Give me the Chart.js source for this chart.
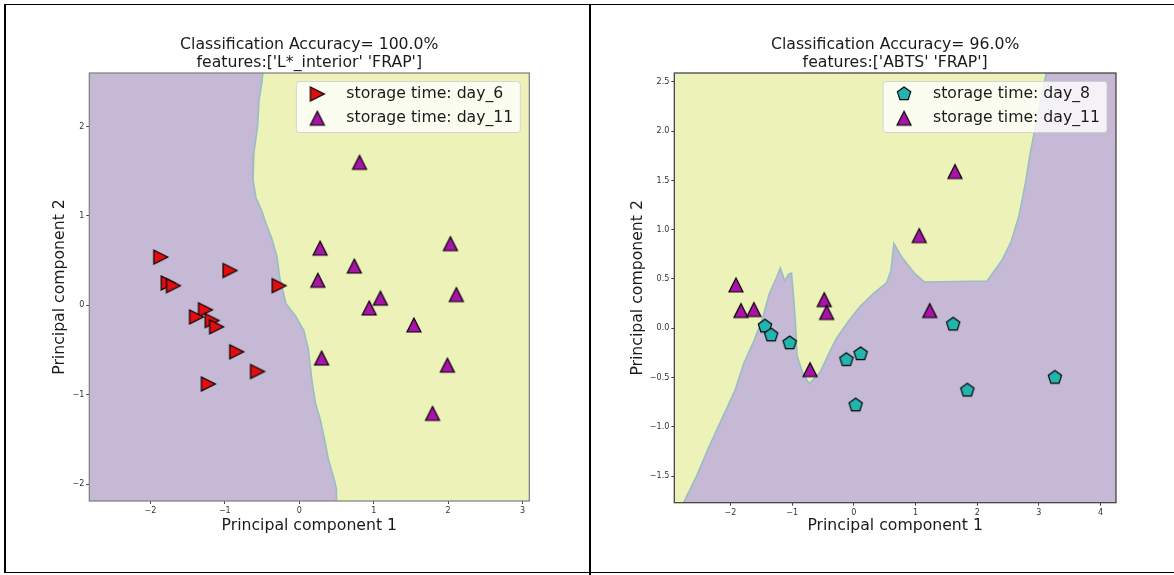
<!DOCTYPE html>
<html>
<head>
<meta charset="utf-8">
<script src="https://cdn.jsdelivr.net/npm/chart.js@4.4.1/dist/chart.umd.min.js"></script>
<style>
  html, body { margin: 0; padding: 0; background: #fff; }
  #page { position: relative; width: 1174px; height: 575px; overflow: hidden; }
  #page canvas { position: absolute; top: 0; }
  .rule { position: absolute; background: #000; }
</style>
</head>
<body>
<div id="page">
  <canvas id="pcaLeft" width="587" height="575" style="left:0"></canvas>
  <canvas id="pcaRight" width="587" height="575" style="left:587px"></canvas>
  <div class="rule" style="left:4px;top:4px;width:1170px;height:1px"></div>
  <div class="rule" style="left:4px;top:4px;width:2px;height:569px"></div>
  <div class="rule" style="left:589px;top:4px;width:2px;height:571px"></div>
  <div class="rule" style="left:4px;top:572px;width:1170px;height:1px"></div>
</div>
<script>
// ---- Panel 1: L*_interior + FRAP ----
const leftTitle = ["Classification Accuracy= 100.0%", "features:['L*_interior' 'FRAP']"];
const day6X = [-1.86, -1.76, -1.69, -0.93, -0.27, -1.26, -1.38, -1.17, -1.11, -0.84, -0.56, -1.22];
const day6Y = [0.54, 0.25, 0.22, 0.39, 0.22, -0.05, -0.13, -0.17, -0.24, -0.52, -0.74, -0.88];
const leftDay11X = [0.81, 0.28, 2.03, 0.74, 0.25, 1.09, 2.11, 0.94, 1.54, 0.30, 1.99, 1.79];
const leftDay11Y = [1.60, 0.64, 0.69, 0.44, 0.28, 0.08, 0.12, -0.03, -0.22, -0.59, -0.67, -1.21];
const leftXTicks = [-2, -1, 0, 1, 2, 3];
const leftYTicks = [-2, -1, 0, 1, 2];
// decision region predicted as day_11 (outline in data units)
const leftDay11Region = [
  [-0.48, 2.7], [-0.50, 2.5], [-0.54, 2.3], [-0.56, 2.0], [-0.61, 1.7], [-0.62, 1.4],
  [-0.58, 1.2], [-0.50, 1.05], [-0.44, 0.9], [-0.37, 0.75], [-0.30, 0.55], [-0.26, 0.3],
  [-0.22, 0.17], [-0.18, 0.02], [-0.05, -0.12], [0.06, -0.28], [0.12, -0.48], [0.15, -0.69],
  [0.18, -0.9], [0.22, -1.1], [0.28, -1.27], [0.34, -1.5], [0.39, -1.72], [0.46, -1.92],
  [0.50, -2.05], [0.50, -2.3], [3.5, -2.3], [3.5, 2.7]
];

// ---- Panel 2: ABTS + FRAP ----
const rightTitle = ["Classification Accuracy= 96.0%", "features:['ABTS' 'FRAP']"];
const day8X = [-1.44, -1.34, -1.04, -0.12, 0.11, 0.03, 1.61, 1.84, 3.26];
const day8Y = [0.02, -0.07, -0.15, -0.32, -0.26, -0.78, 0.04, -0.63, -0.50];
const rightDay11X = [-1.91, -1.83, -1.62, -0.48, -0.44, -0.71, 1.06, 1.64, 1.23];
const rightDay11Y = [0.44, 0.18, 0.19, 0.29, 0.16, -0.42, 0.94, 1.59, 0.18];
const rightXTicks = [-2, -1, 0, 1, 2, 3, 4];
const rightYTicks = [-1.5, -1.0, -0.5, 0.0, 0.5, 1.0, 1.5, 2.0, 2.5];
// decision region predicted as day_11 (outline in data units)
const rightDay11Region = [
  [-3.1, 2.7], [-3.1, -1.9], [-2.78, -1.9], [-2.76, -1.77], [-2.55, -1.5], [-2.36, -1.22],
  [-2.2, -1.0], [-2.05, -0.8], [-1.92, -0.62], [-1.78, -0.35], [-1.62, -0.13], [-1.48, 0.1],
  [-1.37, 0.35], [-1.25, 0.52], [-1.19, 0.61], [-1.12, 0.48], [-1.06, 0.55], [-1.01, 0.56],
  [-0.98, 0.35], [-0.95, 0.1], [-0.92, -0.28], [-0.82, -0.47], [-0.72, -0.56], [-0.55, -0.45],
  [-0.40, -0.25], [-0.28, -0.1], [-0.09, 0.07], [0.1, 0.22], [0.33, 0.36], [0.53, 0.46],
  [0.60, 0.58], [0.65, 0.86], [0.78, 0.72], [0.98, 0.56], [1.14, 0.47], [2.16, 0.48],
  [2.40, 0.69], [2.55, 0.88], [2.68, 1.15], [2.78, 1.47], [2.86, 1.78], [2.93, 2.0],
  [3.02, 2.29], [3.12, 2.59], [3.15, 2.7]
];

const AXIS_X_LABEL = 'Principal component 1';
const AXIS_Y_LABEL = 'Principal component 2';
const FONT = "'DejaVu Sans', 'Liberation Sans', sans-serif";
const TEXT_SIZE = 15.7;
const PURPLE_BG = '#c6b9d5';
const YELLOW_BG = '#edf3b8';
const EDGE = 'rgba(150,188,196,0.95)';
const TEXT = '#1a1a1a';

Chart.defaults.font.family = FONT;

// matplotlib-like marker glyphs as small canvases
function makeMarker(shape, fill, size) {
  const pad = 3;
  const s = Math.round(size + pad * 2);
  const c = document.createElement('canvas');
  c.width = s; c.height = s;
  const g = c.getContext('2d');
  const m = s / 2, h = size / 2;
  g.beginPath();
  if (shape === 'right') {
    g.moveTo(m - h, m - h); g.lineTo(m + h, m); g.lineTo(m - h, m + h);
  } else if (shape === 'up') {
    g.moveTo(m, m - h); g.lineTo(m + h, m + h); g.lineTo(m - h, m + h);
  } else {
    for (let k = 0; k < 5; k++) {
      const a = (-90 + k * 72) * Math.PI / 180;
      const px = m + h * Math.cos(a), py = m + h * Math.sin(a);
      k ? g.lineTo(px, py) : g.moveTo(px, py);
    }
  }
  g.closePath();
  g.fillStyle = fill; g.fill();
  g.lineWidth = 1.2; g.strokeStyle = '#000'; g.lineJoin = 'miter'; g.stroke();
  return c;
}

const redRight = makeMarker('right', '#e00e0e', 14);
const magentaUp = makeMarker('up', '#a813a8', 14);
const tealPenta = makeMarker('pentagon', '#22b4ae', 14);

const tickFmt = digits => v => (digits ? Number(v).toFixed(digits) : String(Math.round(v))).replace('-', '\u2212');

// plot background, frame and an inset legend in the upper right of the plot area
const panelPlugin = {
  id: 'panel',
  beforeDatasetsDraw(chart, args, o) {
    const { ctx, chartArea: a } = chart;
    ctx.save();
    ctx.fillStyle = o.background;
    ctx.fillRect(a.left, a.top, a.right - a.left, a.bottom - a.top);
    ctx.restore();
  },
  afterDatasetsDraw(chart, args, o) {
    const { ctx, chartArea: a } = chart;
    ctx.save();
    ctx.strokeStyle = o.frame;
    ctx.lineWidth = 1.2;
    ctx.strokeRect(a.left, a.top, a.right - a.left, a.bottom - a.top);

    const items = chart.data.datasets.filter(d => d.inLegend);
    ctx.font = TEXT_SIZE + 'px ' + FONT;
    const tw = Math.max(...items.map(d => ctx.measureText(d.label).width));
    const w = 50 + tw + 7, h = 51;
    const x = a.right - 9 - w, y = a.top + 8.5;
    ctx.beginPath();
    ctx.roundRect(x, y, w, h, 3);
    ctx.fillStyle = 'rgba(255,255,255,0.8)';
    ctx.fill();
    ctx.strokeStyle = 'rgba(204,204,204,0.8)';
    ctx.lineWidth = 1;
    ctx.stroke();
    items.forEach((d, i) => {
      const cy = y + 12.5 + i * 24.2;
      const img = d.pointStyle;
      ctx.drawImage(img, x + 21 - img.width / 2, cy - img.height / 2);
      ctx.fillStyle = TEXT;
      ctx.textBaseline = 'middle';
      ctx.textAlign = 'left';
      ctx.fillText(d.label, x + 50, cy);
    });
    ctx.restore();
  }
};

function series(label, xs, ys, marker) {
  return {
    label, inLegend: true, order: 1,
    data: xs.map((x, i) => ({ x, y: ys[i] })),
    pointStyle: marker, pointRadius: 7, pointHoverRadius: 7, showLine: false
  };
}

function buildPanel(canvas, p) {
  return new Chart(canvas, {
    type: 'scatter',
    data: {
      datasets: [
        {
          label: 'day_11 region', inLegend: false, order: 5,
          data: p.region.map(([x, y]) => ({ x, y })),
          showLine: true, fill: 'shape', tension: 0, clip: 0,
          backgroundColor: YELLOW_BG, borderColor: EDGE, borderWidth: 1.6,
          pointRadius: 0, pointHoverRadius: 0
        },
        ...p.series
      ]
    },
    options: {
      responsive: false,
      animation: false,
      devicePixelRatio: 1,
      events: [],
      layout: { padding: { left: 0, right: p.padRight, top: 0, bottom: 0 } },
      plugins: {
        legend: { display: false },
        tooltip: { enabled: false },
        title: {
          display: true, text: p.title, fullSize: false, color: TEXT,
          font: { size: TEXT_SIZE, weight: 'normal', lineHeight: '18px' },
          padding: { top: 36, bottom: 1 }
        },
        panel: { background: PURPLE_BG, frame: p.frame }
      },
      scales: {
        x: {
          type: 'linear', min: p.xMin, max: p.xMax,
          afterBuildTicks: s => { s.ticks = p.xTicks.map(v => ({ value: v })); },
          afterFit: s => { s.height = p.xAxisHeight; },
          ticks: { callback: tickFmt(0), font: { size: 8 }, color: '#333', padding: 2, maxRotation: 0, autoSkip: false },
          grid: { display: true, drawOnChartArea: false, drawTicks: true, tickLength: 3, color: '#444' },
          border: { display: false },
          title: { display: true, text: AXIS_X_LABEL, color: TEXT, font: { size: TEXT_SIZE, lineHeight: '18px' }, padding: { top: 0, bottom: 40 } }
        },
        y: {
          type: 'linear', min: p.yMin, max: p.yMax,
          afterBuildTicks: s => { s.ticks = p.yTicks.map(v => ({ value: v })); },
          afterFit: s => { s.width = p.yAxisWidth; },
          ticks: { callback: tickFmt(p.yDigits), font: { size: 8 }, color: '#333', padding: 2, autoSkip: false },
          grid: { display: true, drawOnChartArea: false, drawTicks: true, tickLength: 3, color: '#444' },
          border: { display: false },
          title: { display: true, text: AXIS_Y_LABEL, color: TEXT, font: { size: TEXT_SIZE, lineHeight: '18px' }, padding: { top: p.yTitleGap, bottom: 0 } }
        }
      }
    },
    plugins: [panelPlugin]
  });
}

buildPanel(document.getElementById('pcaLeft'), {
  title: leftTitle,
  region: leftDay11Region,
  series: [
    series('storage time: day_6', day6X, day6Y, redRight),
    series('storage time: day_11', leftDay11X, leftDay11Y, magentaUp)
  ],
  xMin: -2.82, xMax: 3.09, yMin: -2.19, yMax: 2.6,
  xTicks: leftXTicks, yTicks: leftYTicks, yDigits: 0,
  padRight: 57.7, xAxisHeight: 74, yAxisWidth: 89.3, yTitleGap: 51,
  frame: '#7d7d7d'
});

buildPanel(document.getElementById('pcaRight'), {
  title: rightTitle,
  region: rightDay11Region,
  series: [
    series('storage time: day_8', day8X, day8Y, tealPenta),
    series('storage time: day_11', rightDay11X, rightDay11Y, magentaUp)
  ],
  xMin: -2.91, xMax: 4.25, yMin: -1.77, yMax: 2.59,
  xTicks: rightXTicks, yTicks: rightYTicks, yDigits: 1,
  padRight: 58, xAxisHeight: 72.3, yAxisWidth: 87.3, yTitleGap: 41.6,
  frame: '#3a3a3a'
});
</script>
</body>
</html>
